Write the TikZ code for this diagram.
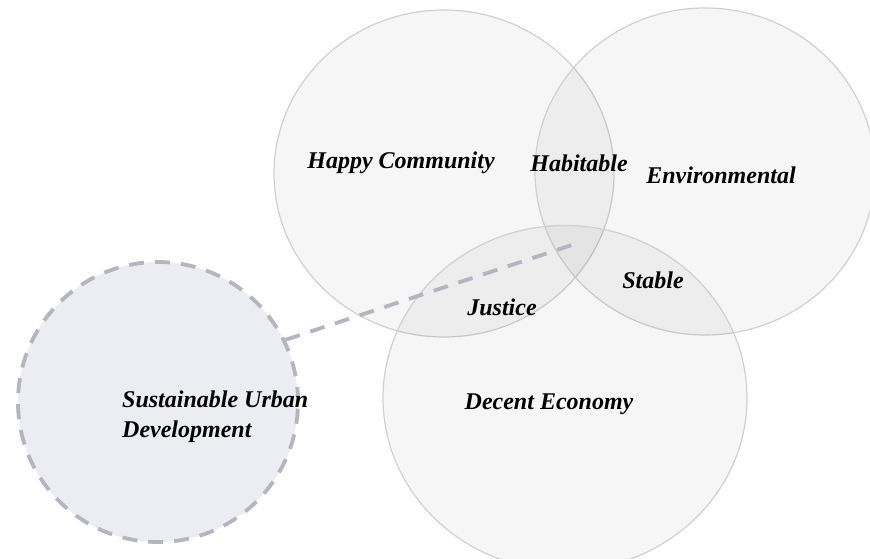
\documentclass[tikz,border=0pt]{standalone}
\usepackage{fontspec}
\setmainfont{Liberation Serif}
\usetikzlibrary{shapes.geometric}
\definecolor{ringline}{HTML}{D0D0D0}
\definecolor{goalfill}{HTML}{ECEDF2}
\definecolor{goaldash}{HTML}{B3B6C0}
\begin{document}
\begin{tikzpicture}[x=1pt, y=-1pt,
    pillar/.style={ellipse, draw=ringline, line width=1.2pt, fill=black, fill opacity=0.035},
    goal/.style={circle, draw=goaldash, fill=goalfill, line width=3.8pt, dash pattern=on 15pt off 11pt, minimum size=280pt},
    lbl/.style={font=\fontsize{24}{30}\selectfont\bfseries\itshape, inner sep=1pt}]
        \useasboundingbox (0, 0) rectangle (870, 558);
        \clip (0, 0) rectangle (870, 558);
        \fill[white] (0, 0) rectangle (870, 558);
        \node[pillar, minimum width=340pt, minimum height=327pt] (happy) at (444, 173.5) {};
        \node[pillar, minimum width=340pt, minimum height=327pt] (env) at (705, 171.5) {};
        \node[pillar, minimum width=364pt, minimum height=345pt] (econ) at (565, 398) {};
        \node[goal] (sud) at (158, 402) {};
        \coordinate (core) at (575, 244);
        \draw[goaldash, line width=3.8pt, dash pattern=on 15pt off 11pt] (sud.26) -- (core);
        \node[lbl] (hc) at (401, 163) {Happy Community};
        \node[lbl] (hab) at (579, 163) {Habitable};
        \node[lbl] (en) at (721, 175) {Environmental};
        \node[lbl] (st) at (653, 280) {Stable};
        \node[lbl] (ju) at (502, 307) {Justice};
        \node[lbl] (de) at (549, 404) {Decent Economy};
        \node[lbl, anchor=west, align=left] (su) at (121, 417) {Sustainable Urban\\Development};
    \end{tikzpicture}
\end{document}
